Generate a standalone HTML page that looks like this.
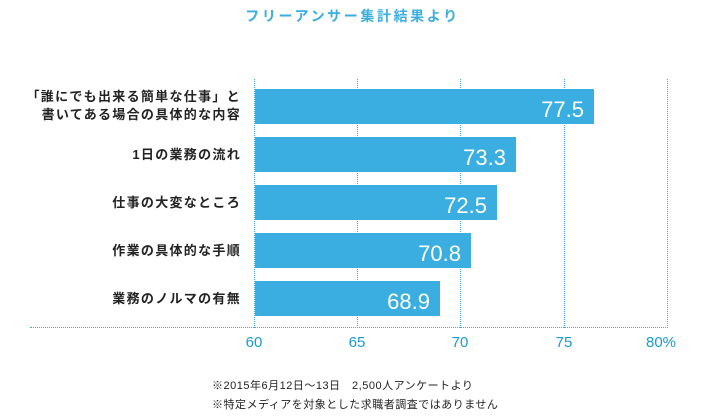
<!DOCTYPE html>
<html><head><meta charset="utf-8"><style>
body{margin:0;width:705px;height:420px;background:#fff;position:relative;overflow:hidden;font-family:"Liberation Sans","Noto Sans CJK JP",sans-serif}
.a{position:absolute}
.t{left:0;width:705px;top:6px;text-align:center;color:#3aaee0;font-size:14px;font-weight:bold;letter-spacing:2.6px;padding-left:0}
.g{top:79px;height:249px;border-left:1px dotted #3aaee0;width:0}
.ax{left:30px;top:327px;width:638px;border-top:1px dotted #3aaee0}
.bar{left:255px;height:35px;background:#3aaee0}
.v{color:#fff;font-size:22px;right:10px;bottom:2px;line-height:24px}
.lb{right:464px;text-align:right;color:#222;font-size:13px;font-weight:bold;line-height:18px;letter-spacing:1.3px}
.tk{top:334px;color:#1a9ad6;font-size:15px;width:40px;text-align:center}
.fn{left:212px;font-size:11px;color:#222;letter-spacing:0.5px}
</style></head><body>
<div class="a t">フリーアンサー集計結果より</div>
<div class="a g" style="left:254px"></div>
<div class="a g" style="left:357px"></div>
<div class="a g" style="left:460px"></div>
<div class="a g" style="left:564px"></div>
<div class="a g" style="left:667px"></div>
<div class="a ax"></div>
<div class="a bar" style="top:89px;width:339px"><span class="a v">77.5</span></div>
<div class="a bar" style="top:137px;width:261px"><span class="a v">73.3</span></div>
<div class="a bar" style="top:185px;width:242px"><span class="a v">72.5</span></div>
<div class="a bar" style="top:233px;width:216px"><span class="a v">70.8</span></div>
<div class="a bar" style="top:281px;width:185px"><span class="a v">68.9</span></div>
<div class="a lb" style="top:88px">「誰にでも出来る簡単な仕事」と<br>書いてある場合の具体的な内容</div>
<div class="a lb" style="top:146px">1日の業務の流れ</div>
<div class="a lb" style="top:194px">仕事の大変なところ</div>
<div class="a lb" style="top:242px">作業の具体的な手順</div>
<div class="a lb" style="top:290px">業務のノルマの有無</div>
<div class="a tk" style="left:234px">60</div>
<div class="a tk" style="left:337px">65</div>
<div class="a tk" style="left:440px">70</div>
<div class="a tk" style="left:544px">75</div>
<div class="a tk" style="left:636px;width:50px">80%</div>
<div class="a fn" style="top:377px">※2015年6月12日〜13日　2,500人アンケートより</div>
<div class="a fn" style="top:396px">※特定メディアを対象とした求職者調査ではありません</div>
</body></html>
